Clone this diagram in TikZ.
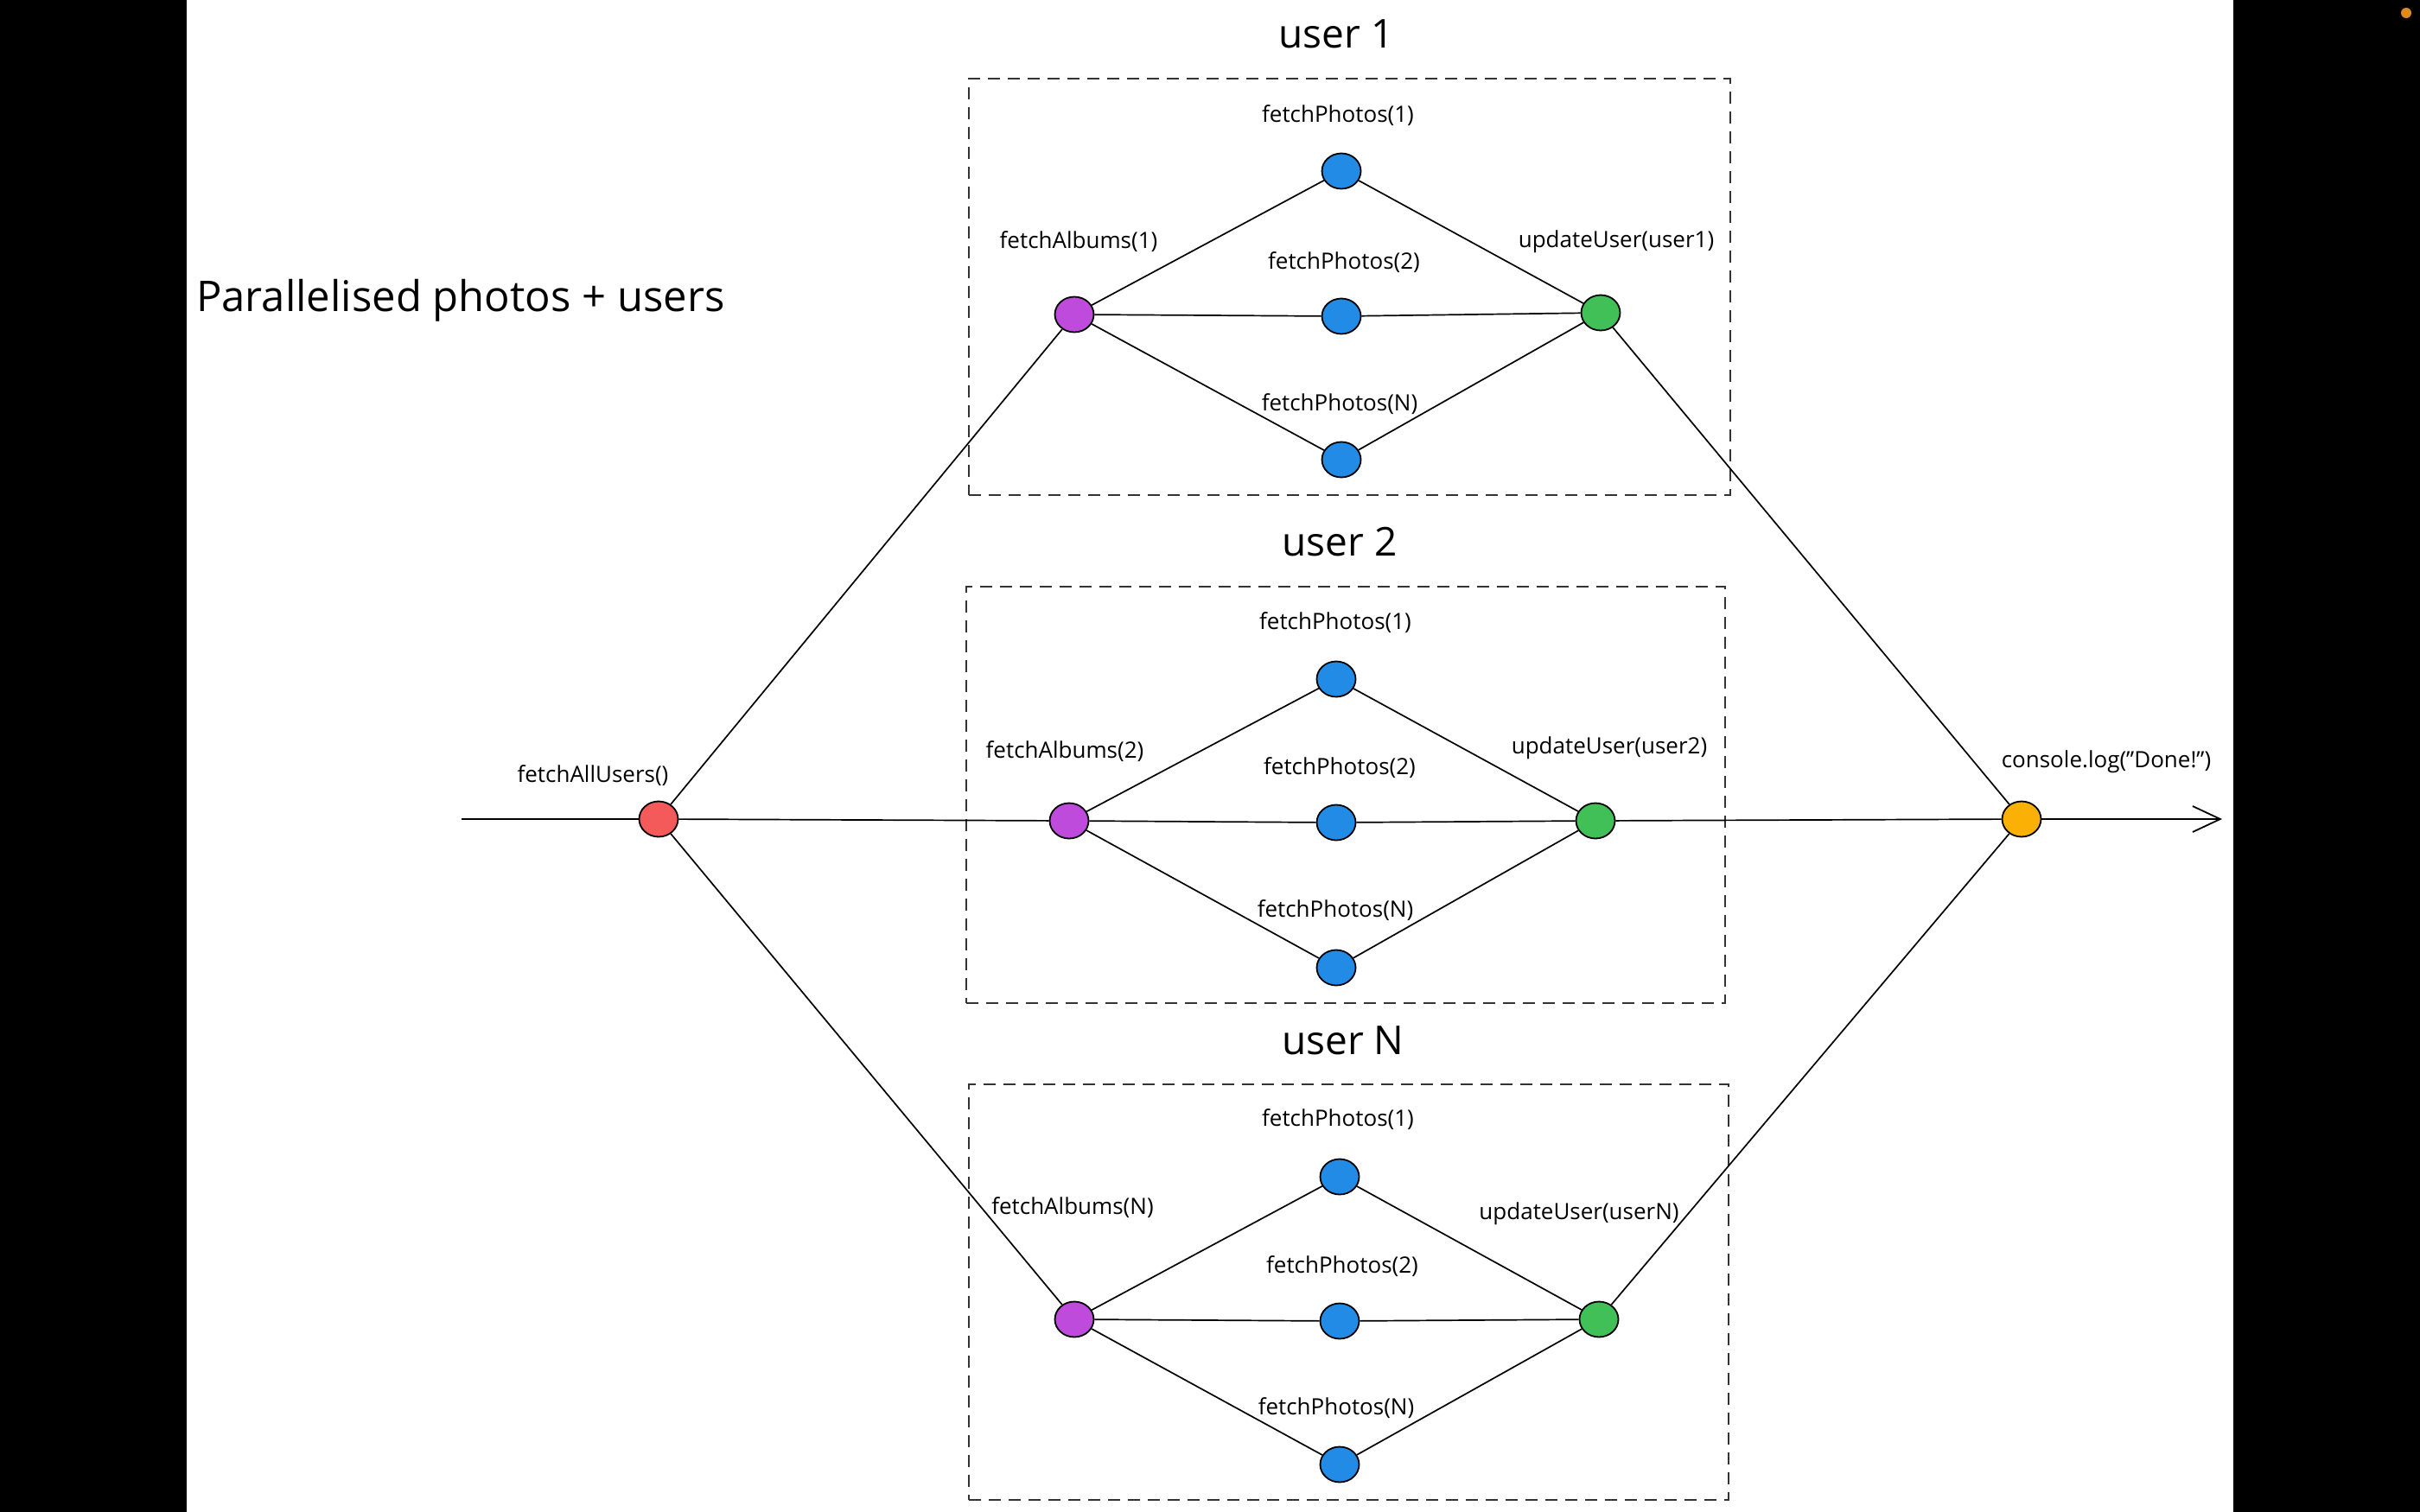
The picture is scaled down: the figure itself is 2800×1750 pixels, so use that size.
\documentclass[tikz,border=0pt]{standalone}
\usepackage{fontspec}
\setmainfont{Open Sans}
\usetikzlibrary{arrows.meta,shapes.geometric}
\definecolor{cred}{HTML}{F55A5A}
\definecolor{cpurple}{HTML}{BE4BDB}
\definecolor{cblue}{HTML}{228BE6}
\definecolor{cgreen}{HTML}{40C057}
\definecolor{corange}{HTML}{FAB005}
\definecolor{cdot}{HTML}{E08A1E}
\begin{document}
\begin{tikzpicture}[x=1pt,y=-1pt,
  dot/.style={ellipse, draw=black, line width=1.8pt, minimum width=45pt, minimum height=41pt, inner sep=0pt},
  conn/.style={draw=black, line width=1.7pt},
  lbl/.style={font=\fontsize{26}{30}\selectfont, inner sep=0pt},
  ulbl/.style={font=\fontsize{46}{52}\selectfont, inner sep=0pt},
  grp/.style={draw=black!80, line width=2pt, dash pattern=on 14pt off 9pt}]
\useasboundingbox (0,0) rectangle (2800,1750);
\fill[white] (0,0) rectangle (2800,1750);
\fill[black] (0,0) rectangle (216,1750);
\fill[black] (2584,0) rectangle (2800,1750);
\fill[cdot] (2784,15) circle (6);

% title
\node[anchor=west, font=\fontsize{49}{56}\selectfont, inner sep=0pt] (title) at (227,348) {Parallelised photos + users};

% group boxes
\node[grp, minimum width=881pt, minimum height=482pt, inner sep=0pt] (box1) at (1561.5,332) {};
\node[grp, minimum width=878pt, minimum height=482pt, inner sep=0pt] (box2) at (1557,920) {};
\node[grp, minimum width=879pt, minimum height=481pt, inner sep=0pt] (box3) at (1560.5,1495.5) {};
\node[ulbl] (u1) at (1546,39) {user 1};
\node[ulbl] (u2) at (1550,627) {user 2};
\node[ulbl] (uN) at (1554,1204) {user N};

% main nodes
\coordinate (start) at (534,948);
\coordinate (end) at (2571,948);
\node[dot, fill=cred] (red) at (762,948) {};
\node[dot, fill=corange] (orange) at (2339,948) {};
\node[lbl] at (686,898) {fetchAllUsers()};
\node[lbl] at (2437,882) {console.log(\symbol{34}Done!\symbol{34})};

% user 1
\node[dot, fill=cpurple] (p1) at (1243,364) {};
\node[dot, fill=cblue] (a1) at (1552,198) {};
\node[dot, fill=cblue] (b1) at (1552,366) {};
\node[dot, fill=cblue] (c1) at (1552,532) {};
\node[dot, fill=cgreen] (g1) at (1852,362) {};
\node[lbl] at (1248,280) {fetchAlbums(1)};
\node[lbl] at (1548,134) {fetchPhotos(1)};
\node[lbl] at (1555,304) {fetchPhotos(2)};
\node[lbl] at (1550,468) {fetchPhotos(N)};
\node[lbl] at (1870,280) {updateUser(user1)};

% user 2
\node[dot, fill=cpurple] (p2) at (1237,950) {};
\node[dot, fill=cblue] (a2) at (1546,786) {};
\node[dot, fill=cblue] (b2) at (1546,952) {};
\node[dot, fill=cblue] (c2) at (1546,1120) {};
\node[dot, fill=cgreen] (g2) at (1846,950) {};
\node[lbl] at (1232,870) {fetchAlbums(2)};
\node[lbl] at (1545,721) {fetchPhotos(1)};
\node[lbl] at (1550,889) {fetchPhotos(2)};
\node[lbl] at (1545,1054) {fetchPhotos(N)};
\node[lbl] at (1862,866) {updateUser(user2)};

% user N
\node[dot, fill=cpurple] (p3) at (1243,1527) {};
\node[dot, fill=cblue] (a3) at (1550,1362) {};
\node[dot, fill=cblue] (b3) at (1550,1529) {};
\node[dot, fill=cblue] (c3) at (1550,1695) {};
\node[dot, fill=cgreen] (g3) at (1850,1527) {};
\node[lbl] at (1241,1398) {fetchAlbums(N)};
\node[lbl] at (1548,1296) {fetchPhotos(1)};
\node[lbl] at (1553,1466) {fetchPhotos(2)};
\node[lbl] at (1546,1630) {fetchPhotos(N)};
\node[lbl] at (1827,1405) {updateUser(userN)};

% connectors
\draw[conn] (start) -- (red);
\draw[conn] (red) -- (p1);
\draw[conn] (red) -- (p2);
\draw[conn] (red) -- (p3);
\foreach \i in {1,2,3}{
  \draw[conn] (p\i) -- (a\i);
  \draw[conn] (p\i) -- (b\i);
  \draw[conn] (p\i) -- (c\i);
  \draw[conn] (a\i) -- (g\i);
  \draw[conn] (b\i) -- (g\i);
  \draw[conn] (c\i) -- (g\i);
  \draw[conn] (g\i) -- (orange);
}
\draw[conn, -{Straight Barb[length=32pt, width=30pt, line width=1.8pt]}] (orange) -- (end);
\end{tikzpicture}
\end{document}
